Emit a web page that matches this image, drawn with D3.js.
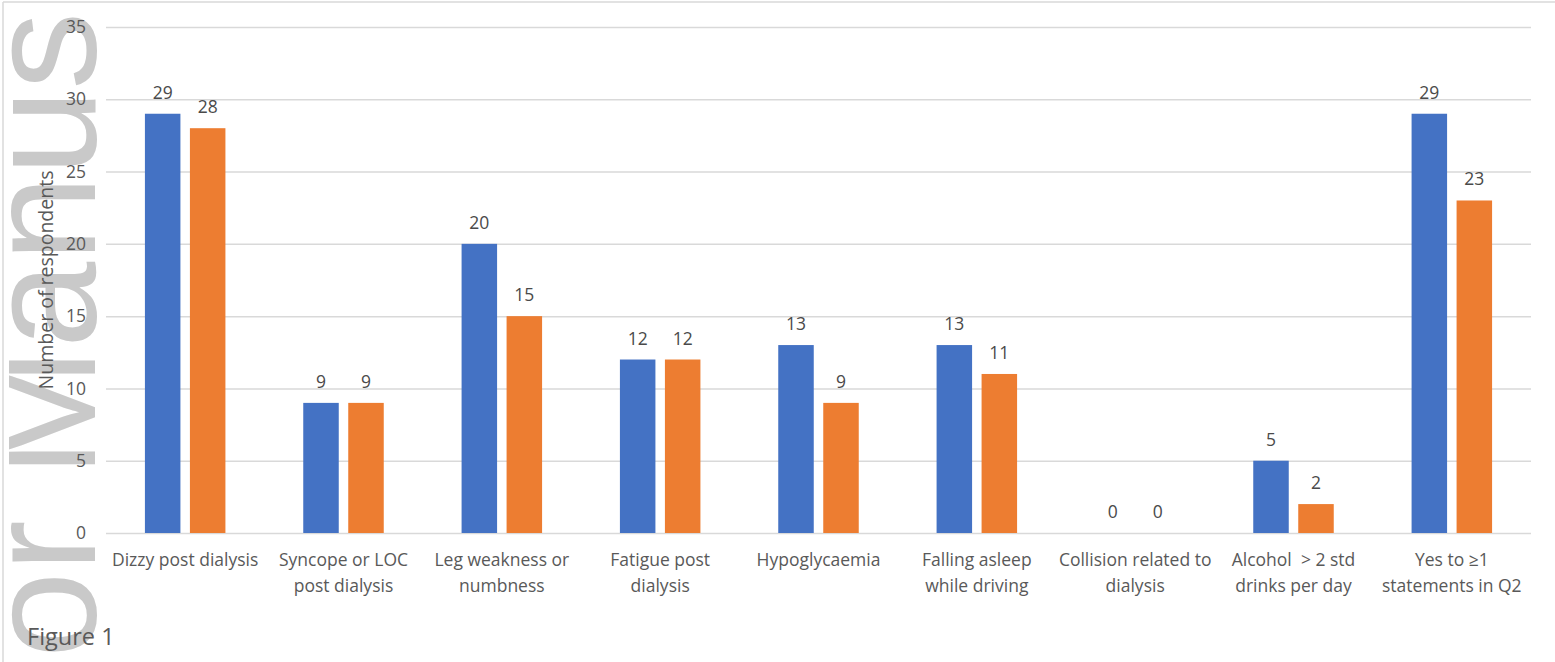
<!DOCTYPE html>
<html>
<head>
<meta charset="utf-8">
<script src="https://cdn.jsdelivr.net/npm/d3@7"></script>
<style>
  html, body { margin: 0; padding: 0; background: #fff; }
  svg { display: block; }
</style>
</head>
<body>
<svg id="chart" width="1555" height="662"></svg>
<script>
// ---- data ----
const categories = [
  "Dizzy post dialysis",
  "Syncope or LOC\npost dialysis",
  "Leg weakness or\nnumbness",
  "Fatigue post\ndialysis",
  "Hypoglycaemia",
  "Falling asleep\nwhile driving",
  "Collision related to\ndialysis",
  "Alcohol  > 2 std\ndrinks per day",
  "Yes to \u22651\nstatements in Q2"
];
const seriesNames = ["Series 1", "Series 2"];
const series1 = [29, 9, 20, 12, 13, 13, 0, 5, 29];
const series2 = [28, 9, 15, 12, 9, 11, 0, 2, 23];
const yTicks = [0, 5, 10, 15, 20, 25, 30, 35];
const yTitle = "Number of respondents";
const figureLabel = "Figure 1";
const watermarkText = "or Manus";

// ---- setup ----
const W = 1555, H = 662;
const svg = d3.select("#chart");
const colors = ["#4472C4", "#ED7D31"];
const textColor = "#595959";
const font = "'Open Sans', sans-serif";

const plot = { left: 106, right: 1531, top: 27, bottom: 533 };

const y = d3.scaleLinear().domain([0, 35]).range([plot.bottom, plot.top]);
const x0 = d3.scaleBand().domain(categories).range([plot.left, plot.right]).padding(0);
const bw = x0.bandwidth();
const x1 = d3.scaleBand().domain(seriesNames)
  .range([bw / 2 - 40.25, bw / 2 + 40.25]).paddingInner(0.211).paddingOuter(0);

// ---- watermark (partial, clipped like the reference) ----
svg.append("clipPath").attr("id", "wmclip")
  .append("rect").attr("x", 9).attr("y", 4).attr("width", 200).attr("height", H - 4);
svg.append("g").attr("clip-path", "url(#wmclip)")
  .append("text")
  .attr("transform", "translate(95,658) rotate(-90)")
  .attr("font-family", "'Liberation Sans', Arial, sans-serif")
  .attr("font-size", 155)
  .attr("fill", "#c9c9c9")
  .text(watermarkText);

// ---- frame (top & left) ----
svg.append("line").attr("x1", 3).attr("x2", W).attr("y1", 2).attr("y2", 2)
  .attr("stroke", "#d9d9d9").attr("stroke-width", 1.5);
svg.append("line").attr("x1", 3).attr("x2", 3).attr("y1", 2).attr("y2", H)
  .attr("stroke", "#d9d9d9").attr("stroke-width", 1.5);

// ---- gridlines + y axis ----
const yAxis = d3.axisLeft(y).tickValues(yTicks).tickSize(-(plot.right - plot.left)).tickPadding(20);
const gy = svg.append("g").attr("transform", `translate(${plot.left},0)`).call(yAxis);
gy.select(".domain").remove();
gy.selectAll(".tick line").attr("stroke", "#d9d9d9").attr("stroke-width", 1.5);
gy.selectAll(".tick text")
  .attr("font-family", font).attr("font-size", 17.5).attr("fill", textColor);

// ---- bars ----
const groups = svg.append("g").selectAll("g")
  .data(categories.map((c, i) => ({ c, vals: [series1[i], series2[i]] })))
  .join("g")
  .attr("transform", d => `translate(${x0(d.c)},0)`);

groups.selectAll("rect")
  .data(d => d.vals.map((v, j) => ({ v, s: seriesNames[j], j })))
  .join("rect")
  .attr("x", d => x1(d.s))
  .attr("width", x1.bandwidth())
  .attr("y", d => y(d.v))
  .attr("height", d => y(0) - y(d.v))
  .attr("fill", d => colors[d.j]);

groups.selectAll("text.val")
  .data(d => d.vals.map((v, j) => ({ v, s: seriesNames[j], j })))
  .join("text")
  .attr("class", "val")
  .attr("x", d => x1(d.s) + x1.bandwidth() / 2)
  .attr("y", d => y(d.v) - 15)
  .attr("text-anchor", "middle")
  .attr("font-family", font).attr("font-size", 17.5).attr("fill", "#4a4a4a")
  .text(d => d.v);

// ---- x axis labels ----
const xl = svg.append("g").selectAll("text")
  .data(categories)
  .join("text")
  .attr("x", d => x0(d) + bw / 2)
  .attr("y", plot.bottom + 33)
  .attr("text-anchor", "middle")
  .attr("font-family", font).attr("font-size", 17.5).attr("fill", textColor);
xl.each(function (d) {
  const lines = d.split("\n");
  const t = d3.select(this);
  lines.forEach((ln, k) => {
    t.append("tspan")
      .attr("x", x0(d) + bw / 2)
      .attr("dy", k === 0 ? 0 : 26)
      .attr("xml:space", "preserve")
      .style("white-space", "pre")
      .text(ln);
  });
});

// ---- y title ----
svg.append("text")
  .attr("transform", `translate(53,${(plot.top + plot.bottom) / 2}) rotate(-90)`)
  .attr("text-anchor", "middle")
  .attr("font-family", font).attr("font-size", 19.5).attr("fill", textColor)
  .text(yTitle);

// ---- figure label ----
svg.append("text")
  .attr("x", 27).attr("y", 645)
  .attr("font-family", font).attr("font-size", 23.5).attr("fill", textColor)
  .text(figureLabel);
</script>
</body>
</html>
